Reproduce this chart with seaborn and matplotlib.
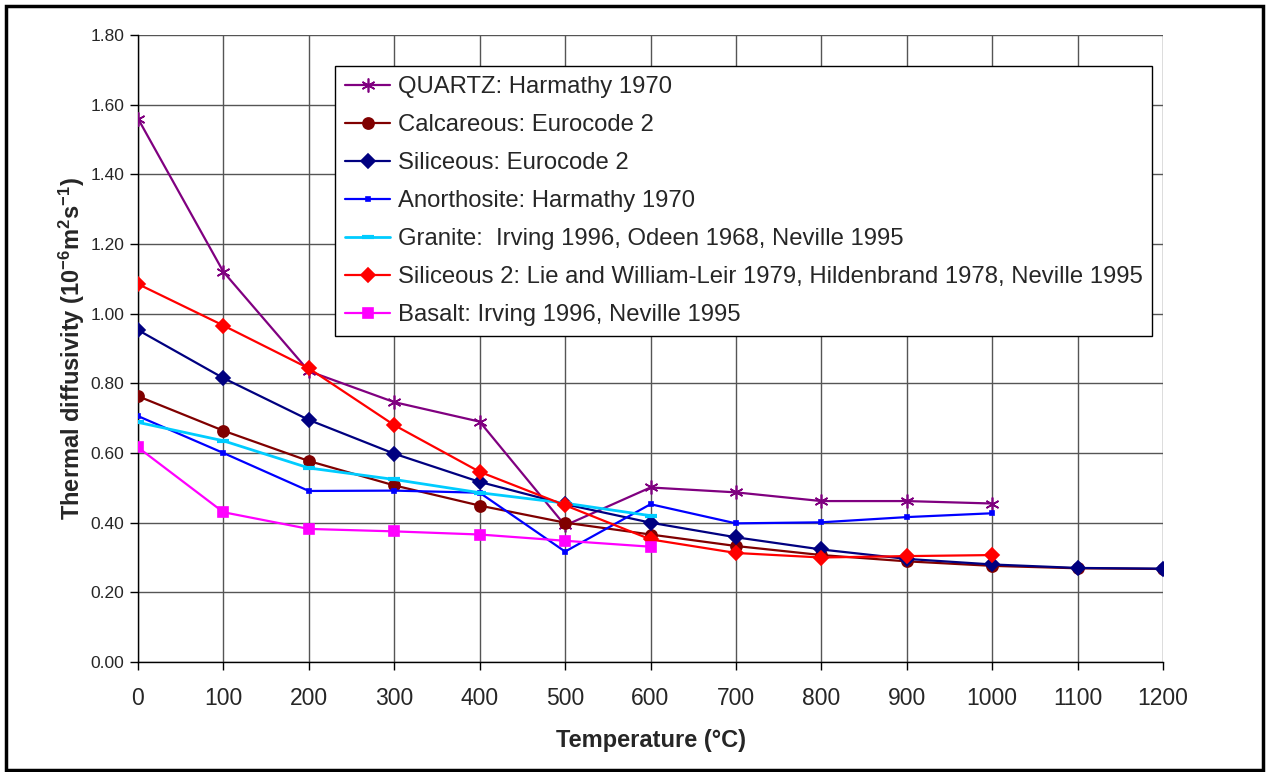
import matplotlib
matplotlib.use("Agg")
import matplotlib.pyplot as plt
import seaborn as sns
import pandas as pd
from matplotlib.patches import Rectangle

# ---- data ----
temps_full = [0, 100, 200, 300, 400, 500, 600, 700, 800, 900, 1000, 1100, 1200]
temps_1000 = [0, 100, 200, 300, 400, 500, 600, 700, 800, 900, 1000]
temps_600 = [0, 100, 200, 300, 400, 500, 600]

quartz = [1.56, 1.12, 0.835, 0.746, 0.69, 0.392, 0.501, 0.487, 0.462, 0.462, 0.455]
calcareous = [0.763, 0.664, 0.577, 0.507, 0.449, 0.400, 0.366, 0.333, 0.307, 0.289, 0.276, 0.269, 0.267]
siliceous = [0.953, 0.815, 0.695, 0.598, 0.517, 0.453, 0.400, 0.358, 0.323, 0.296, 0.280, 0.270, 0.268]
anorthosite = [0.706, 0.600, 0.491, 0.492, 0.486, 0.317, 0.453, 0.398, 0.401, 0.416, 0.427]
granite = [0.688, 0.635, 0.557, 0.524, 0.486, 0.456, 0.420]
siliceous2 = [1.085, 0.966, 0.843, 0.680, 0.546, 0.450, 0.352, 0.313, 0.300, 0.304, 0.307]
basalt = [0.616, 0.430, 0.382, 0.375, 0.366, 0.348, 0.331]

labels = [
    "QUARTZ: Harmathy 1970",
    "Calcareous: Eurocode 2",
    "Siliceous: Eurocode 2",
    "Anorthosite: Harmathy 1970",
    "Granite:  Irving 1996, Odeen 1968, Neville 1995",
    "Siliceous 2: Lie and William-Leir 1979, Hildenbrand 1978, Neville 1995",
    "Basalt: Irving 1996, Neville 1995",
]
yticks = [0.0, 0.2, 0.4, 0.6, 0.8, 1.0, 1.2, 1.4, 1.6, 1.8]

series = [
    (temps_1000, quartz, "#800080", (6, 2, 0), 10, 1.6),
    (temps_full, calcareous, "#800000", "o", 8, 1.6),
    (temps_full, siliceous, "#000080", "D", 7, 1.6),
    (temps_1000, anorthosite, "#0000FF", "s", 3, 1.6),
    (temps_600, granite, "#00CCFF", "_", 9, 2.0),
    (temps_1000, siliceous2, "#FF0000", "D", 7, 1.6),
    (temps_600, basalt, "#FF00FF", "s", 7.5, 1.6),
]

sns.set_theme(style="white")
plt.rcParams["font.family"] = ["Liberation Sans", "DejaVu Sans"]
plt.rcParams["mathtext.fontset"] = "custom"
plt.rcParams["mathtext.rm"] = "Liberation Sans:bold"
plt.rcParams["mathtext.bf"] = "Liberation Sans:bold"
plt.rcParams["mathtext.it"] = "Liberation Sans:bold"
plt.rcParams["mathtext.default"] = "bf"

fig = plt.figure(figsize=(12.66, 7.72), dpi=100)
ax = fig.add_axes([138 / 1266, 1 - 662 / 772, (1163 - 138) / 1266, (662 - 35) / 772])

for (xs, ys, col, mk, ms, lw), lab in zip(series, labels):
    df = pd.DataFrame({"T": xs, "v": ys})
    sns.lineplot(data=df, x="T", y="v", ax=ax, color=col, marker=mk, markersize=ms,
                 markeredgecolor=col, markerfacecolor=col,
                 markeredgewidth=(3 if mk == "_" else 1.2),
                 linewidth=lw, label=lab, zorder=3)

ax.set_xlim(0, 1200)
ax.set_ylim(0, 1.8)
ax.set_xticks(temps_full)
ax.set_xticklabels([str(t) for t in temps_full], fontsize=16.5)
ax.set_yticks(yticks)
ax.set_yticklabels([f"{v:.2f}" for v in yticks], fontsize=12.5)
ax.grid(True, color="#555555", linewidth=1.0)
ax.set_axisbelow(True)
for side in ["top", "right"]:
    ax.spines[side].set_visible(False)
for side in ["left", "bottom"]:
    ax.spines[side].set_color("black")
    ax.spines[side].set_linewidth(1.0)
ax.tick_params(axis="both", which="both", direction="out", length=6, width=1,
               color="black", left=True, bottom=True, pad=4)
ax.tick_params(axis="x", pad=12)

ax.set_xlabel("Temperature (°C)", fontsize=17, fontweight="bold", labelpad=14)
ax.set_ylabel(r"Thermal diffusivity (10$^{-6}$m$^{2}$s$^{-1}$)",
              fontsize=17, fontweight="bold", labelpad=2)

leg = ax.legend(loc="upper left", bbox_to_anchor=(197 / 1025, (662 - 66) / 627),
                frameon=True, fancybox=False, shadow=False, fontsize=17.2,
                handlelength=1.9, handletextpad=0.3, labelspacing=0.67,
                borderpad=0.42, borderaxespad=0)
leg.get_frame().set_edgecolor("black")
leg.get_frame().set_linewidth(1.0)
leg.get_frame().set_facecolor("white")
leg.get_frame().set_alpha(1)

fig.patches.append(Rectangle((6 / 1266, 2 / 772), 1257 / 1266, 764 / 772,
                             transform=fig.transFigure, fill=False,
                             edgecolor="black", linewidth=2.5))

fig.savefig("out.png", dpi=100, facecolor="white")
